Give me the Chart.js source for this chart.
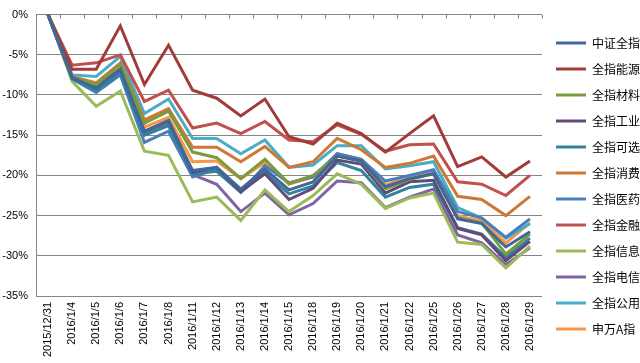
<!DOCTYPE html>
<html>
<head>
<meta charset="utf-8">
<script src="https://cdn.jsdelivr.net/npm/chart.js@4/dist/chart.umd.min.js"></script>
<style>
  html, body { margin: 0; padding: 0; background: #fff; }
  #wrap { width: 640px; height: 363px; }
</style>
</head>
<body>
<div id="wrap"><canvas id="chart"></canvas></div>
<script>
  // categories (trading days)
  const days = ['2015/12/31', '2016/1/4', '2016/1/5', '2016/1/6', '2016/1/7', '2016/1/8',
    '2016/1/11', '2016/1/12', '2016/1/13', '2016/1/14', '2016/1/15', '2016/1/18',
    '2016/1/19', '2016/1/20', '2016/1/21', '2016/1/22', '2016/1/25', '2016/1/26',
    '2016/1/27', '2016/1/28', '2016/1/29'];

  // cumulative change, percent
  const csiAll = [0, -7.8, -9.2, -6.8, -14.6, -13.2, -19.4, -19.0, -21.7, -19.2, -21.8, -20.8, -17.6, -18.2, -21.4, -20.4, -19.8, -25.4, -26.0, -28.9, -27.0];
  const energy = [0, -6.8, -6.8, -1.4, -8.7, -3.8, -9.4, -10.4, -12.6, -10.5, -15.2, -16.1, -13.5, -14.8, -17.1, -14.8, -12.6, -18.9, -17.7, -20.2, -18.2];
  const materials = [0, -7.8, -8.7, -6.2, -13.5, -12.0, -17.1, -17.8, -20.4, -18.0, -21.0, -20.0, -17.6, -18.2, -21.7, -20.5, -19.8, -25.3, -25.9, -29.8, -27.3];
  const industry = [0, -7.9, -9.0, -6.8, -14.5, -13.2, -19.6, -19.0, -22.0, -19.8, -23.0, -21.6, -18.1, -18.6, -22.2, -20.8, -20.6, -26.6, -27.4, -30.6, -28.2];
  const consDisc = [0, -7.9, -9.5, -7.3, -15.0, -13.8, -19.8, -19.5, -22.1, -19.6, -22.3, -21.3, -18.4, -19.4, -22.7, -21.5, -21.1, -26.5, -27.3, -30.2, -27.8];
  const staples = [0, -7.7, -8.5, -6.0, -13.1, -11.7, -16.5, -16.5, -18.3, -16.4, -19.0, -18.3, -15.4, -16.8, -19.0, -18.5, -17.6, -22.6, -23.0, -25.0, -22.6];
  const health = [0, -8.0, -9.7, -7.5, -15.9, -14.5, -20.2, -19.2, -22.1, -18.8, -20.9, -20.2, -17.3, -18.0, -20.7, -20.0, -19.3, -24.5, -25.3, -27.7, -25.4];
  const finance = [0, -6.3, -6.0, -5.0, -10.8, -9.4, -14.1, -13.5, -14.8, -13.3, -15.6, -15.8, -13.7, -14.9, -17.0, -16.2, -16.1, -20.8, -21.1, -22.5, -20.0];
  const infoTech = [0, -8.3, -11.4, -9.5, -17.0, -17.5, -23.3, -22.7, -25.6, -21.8, -24.5, -22.5, -19.8, -21.1, -24.1, -22.8, -22.2, -28.3, -28.6, -31.5, -28.8];
  const telecom = [0, -7.9, -9.3, -7.0, -14.8, -13.5, -19.9, -21.1, -24.5, -22.2, -24.9, -23.5, -20.7, -20.9, -24.0, -22.7, -21.7, -27.4, -28.4, -31.1, -29.0];
  const utilities = [0, -7.5, -7.7, -5.2, -12.3, -10.5, -15.4, -15.4, -17.3, -15.6, -19.0, -18.7, -16.3, -16.3, -19.2, -18.8, -18.3, -24.0, -25.3, -27.8, -26.0];
  const swA = [0, -7.8, -8.9, -6.5, -14.0, -12.8, -18.3, -18.2, -20.4, -18.4, -21.1, -20.2, -17.3, -18.0, -21.2, -20.1, -19.5, -25.0, -25.7, -28.4, -25.9];

  const names = ['中证全指', '全指能源', '全指材料', '全指工业', '全指可选', '全指消费',
    '全指医药', '全指金融', '全指信息', '全指电信', '全指公用', '申万A指'];
  const series = [csiAll, energy, materials, industry, consDisc, staples,
    health, finance, infoTech, telecom, utilities, swA];
  const colors = ['#3F679A', '#A03C3A', '#7A9A3E', '#604A7B', '#31849B', '#CE7834',
    '#4A7EBB', '#C0504D', '#9BBB59', '#8064A2', '#4BACC6', '#F79646'];

  const yTicks = [0, -5, -10, -15, -20, -25, -30, -35];

  const gridColor = '#868686';

  // small tick marks hanging from the 0% line at category boundaries
  const topTicks = {
    id: 'topTicks',
    afterDraw(chart) {
      const { ctx, chartArea } = chart;
      const x = chart.scales.x;
      const step = (chartArea.right - chartArea.left) / days.length;
      ctx.save();
      ctx.strokeStyle = gridColor;
      ctx.lineWidth = 1;
      ctx.beginPath();
      for (let i = 0; i <= days.length; i++) {
        const px = Math.round(chartArea.left + i * step) + 0.5;
        ctx.moveTo(px, chartArea.top);
        ctx.lineTo(px, chartArea.top + 4);
      }
      ctx.stroke();
      ctx.restore();
    }
  };

  const datasets = series.map((data, i) => ({
    label: names[i],
    data: data,
    borderColor: colors[i],
    backgroundColor: colors[i],
    borderWidth: 3,
    pointRadius: 0,
    tension: 0,
    fill: false
  }));

  new Chart(document.getElementById('chart'), {
    type: 'line',
    data: { labels: days, datasets: datasets },
    plugins: [topTicks],
    options: {
      responsive: true,
      maintainAspectRatio: false,
      animation: false,
      layout: { padding: { top: 9, right: 0, bottom: 0, left: 0 } },
      plugins: {
        tooltip: { enabled: false },
        legend: {
          position: 'right',
          maxWidth: 98,
          labels: {
            usePointStyle: true,
            pointStyle: 'line',
            pointStyleWidth: 30,
            padding: 14,
            color: '#000',
            font: { family: '"Noto Sans CJK SC", sans-serif', size: 12 }
          }
        }
      },
      scales: {
        x: {
          offset: true,
          afterFit: s => { s.height = 67; },
          grid: { display: false, drawTicks: false },
          border: { display: false },
          ticks: {
            autoSkip: false,
            minRotation: 90,
            maxRotation: 90,
            padding: 6,
            color: '#000',
            font: { family: '"Liberation Sans", Arial, sans-serif', size: 11 }
          }
        },
        y: {
          min: -35,
          max: 0,
          afterFit: s => { s.width = 36; },
          afterBuildTicks: s => { s.ticks = yTicks.map(v => ({ value: v })); },
          grid: { color: gridColor, lineWidth: 1, drawTicks: false },
          border: { display: true, color: gridColor, width: 1 },
          ticks: {
            padding: 8,
            color: '#000',
            font: { family: '"Liberation Sans", Arial, sans-serif', size: 11 },
            callback: v => v + '%'
          }
        }
      }
    }
  });
</script>
</body>
</html>
